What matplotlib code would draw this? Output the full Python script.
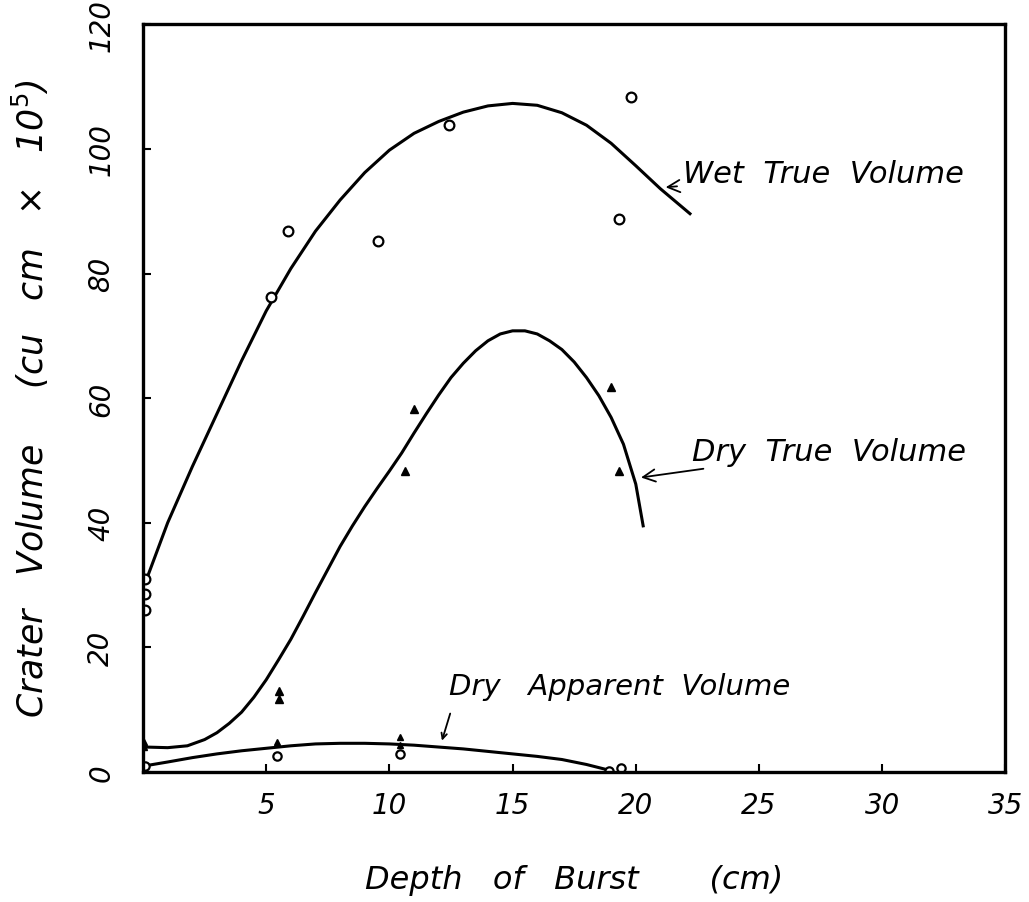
import matplotlib.pyplot as plt

# curves (depth cm, volume cu cm x 10^5)
wet_curve_x = [0.15, 1, 2, 3, 4, 5, 6, 7, 8, 9, 10, 11, 12, 13, 14, 15, 16, 17, 18, 19, 20, 21, 22.2]
wet_curve_y = [31.0, 40.0, 49.0, 57.5, 66.0, 74.0, 80.8, 86.8, 91.8, 96.2, 99.8, 102.5, 104.4,
               105.9, 106.9, 107.3, 107.0, 105.8, 103.8, 100.9, 97.3, 93.6, 89.6]

dry_true_curve_x = [0.1, 1, 1.8, 2.5, 3, 3.5, 4, 4.5, 5, 5.5, 6, 6.5, 7, 7.5, 8, 8.5, 9, 9.5, 10,
                    10.5, 11, 11.5, 12, 12.5, 13, 13.5, 14, 14.5, 15, 15.5, 16, 16.5, 17, 17.5,
                    18, 18.5, 19, 19.5, 20, 20.3]
dry_true_curve_y = [4.0, 3.9, 4.2, 5.2, 6.3, 7.8, 9.6, 12.0, 14.8, 18.0, 21.3, 25.0, 28.8, 32.5,
                    36.2, 39.5, 42.6, 45.5, 48.3, 51.2, 54.4, 57.5, 60.5, 63.3, 65.6, 67.6, 69.2,
                    70.3, 70.8, 70.8, 70.3, 69.2, 67.8, 65.8, 63.3, 60.4, 56.9, 52.6, 46.2, 39.5]

dry_app_curve_x = [0.1, 1, 2, 3, 4, 5, 6, 7, 8, 9, 10, 11, 12, 13, 14, 15, 16, 17, 18, 19]
dry_app_curve_y = [1.0, 1.6, 2.3, 2.9, 3.4, 3.8, 4.2, 4.5, 4.6, 4.6, 4.5, 4.3, 4.0, 3.7, 3.3,
                   2.9, 2.5, 2.0, 1.2, 0.2]

# plotted observations
wet_pts_x = [0.1, 0.1, 0.1, 5.2, 5.9, 9.55, 12.4, 19.3, 19.8]
wet_pts_y = [31.0, 28.6, 26.0, 76.2, 86.8, 85.2, 103.9, 88.8, 108.3]

dry_true_pts_x = [0.0, 0.0, 5.5, 5.5, 11.0, 10.65, 19.0, 19.3]
dry_true_pts_y = [4.2, 4.9, 11.7, 13.0, 58.3, 48.3, 61.8, 48.3]

dry_app_pts_x = [0.1, 5.45, 10.45, 18.9, 19.4]
dry_app_pts_y = [0.9, 2.6, 2.9, 0.2, 0.6]
dry_app_tri_x = [5.45, 10.45, 10.45]
dry_app_tri_y = [4.8, 5.6, 4.3]

x_ticks = [5, 10, 15, 20, 25, 30, 35]
y_ticks = [0, 20, 40, 60, 80, 100, 120]

hand = dict(family='DejaVu Sans', style='italic', weight='light')

fig = plt.figure(figsize=(10.29, 9.03), dpi=100)
ax = fig.add_axes([0.139, 0.144, 0.838, 0.828])

ax.plot(wet_curve_x, wet_curve_y, color='black', lw=2.2)
ax.plot(dry_true_curve_x, dry_true_curve_y, color='black', lw=2.2)
ax.plot(dry_app_curve_x, dry_app_curve_y, color='black', lw=2.2)

ax.plot(wet_pts_x, wet_pts_y, 'o', mfc='white', mec='black', ms=7, mew=1.6, ls='none')
ax.plot(dry_true_pts_x, dry_true_pts_y, '^', color='black', ms=6, ls='none')
ax.plot(dry_app_pts_x, dry_app_pts_y, 'o', mfc='white', mec='black', ms=6, mew=1.6, ls='none')
ax.plot(dry_app_tri_x, dry_app_tri_y, '^', color='black', ms=5, ls='none')

ax.set_xlim(0, 35)
ax.set_ylim(0, 120)
ax.set_xticks(x_ticks)
ax.set_yticks(y_ticks)
ax.set_xticklabels([str(t) for t in x_ticks], fontsize=20, **hand)
ax.set_yticklabels([str(t) for t in y_ticks], fontsize=20, rotation=90, va='center', **hand)
ax.tick_params(direction='in', length=6, width=1.5, pad=14)
ax.tick_params(axis='y', pad=20)
for s in ax.spines.values():
    s.set_linewidth(2.4)

ax.set_xlabel('Depth   of   Burst       (cm)', fontsize=23, labelpad=32, **hand)
ax.set_ylabel('Crater   Volume     (cu   cm   ×   10$^5$)', fontsize=25, labelpad=26, **hand)

ax.annotate('Wet  True  Volume', xy=(21.1, 93.8), xytext=(21.9, 96.0), fontsize=22,
            va='center', arrowprops=dict(arrowstyle='->', color='black', lw=1.3), **hand)
ax.annotate('Dry  True  Volume', xy=(20.1, 47.2), xytext=(22.3, 51.5), fontsize=22,
            va='center', arrowprops=dict(arrowstyle='->', color='black', lw=1.3), **hand)
ax.text(12.4, 13.8, 'Dry   Apparent  Volume', fontsize=21, va='center', **hand)
ax.annotate('', xy=(12.1, 4.6), xytext=(12.5, 9.8),
            arrowprops=dict(arrowstyle='->', color='black', lw=1.3))

fig.savefig('out.png', dpi=100)
